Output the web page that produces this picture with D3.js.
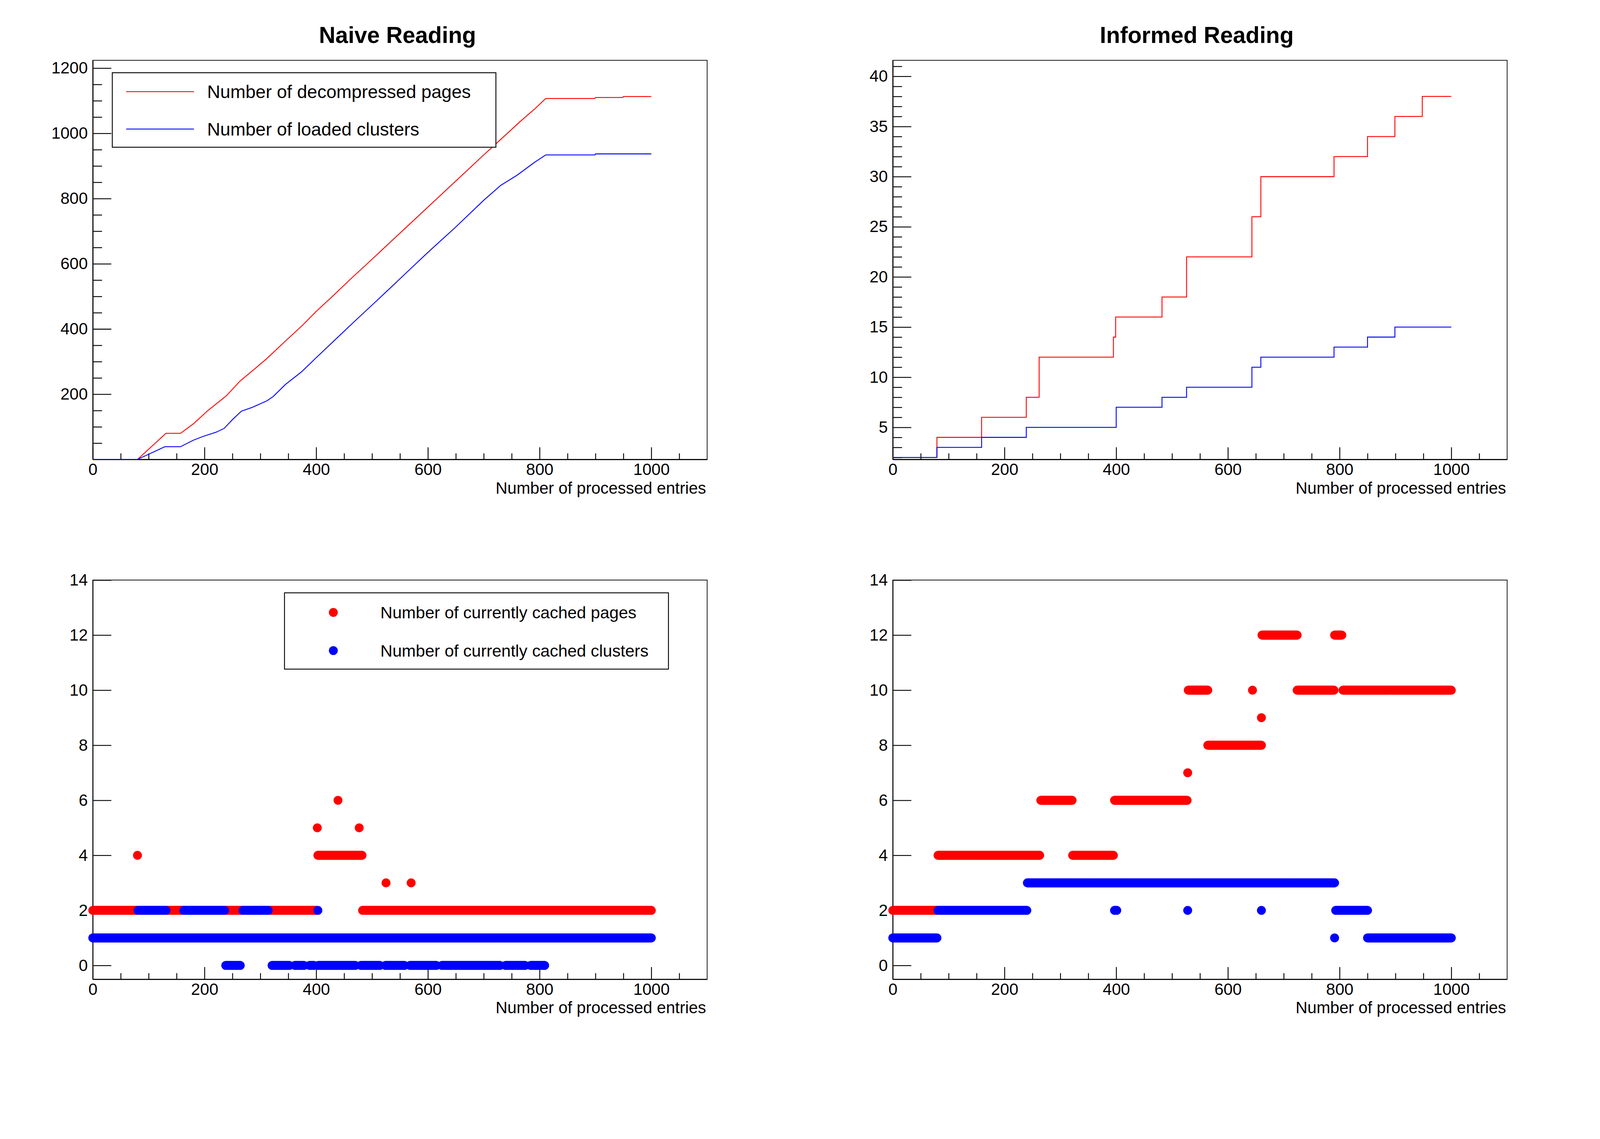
<!DOCTYPE html>
<html>
<head>
<meta charset="utf-8">
<script src="https://cdn.jsdelivr.net/npm/d3@7"></script>
<style>
  html, body { margin: 0; padding: 0; background: #fff; overflow: hidden; }
  #chart { width: 100vw; }
  svg { display: block; width: 100%; height: auto; }
</style>
</head>
<body>
<div id="chart"></div>
<script>
// CONSTANTS
const WIDTH = 4488;
const HEIGHT = 2916;
const FONT = "'Liberation Sans', Arial, Helvetica, sans-serif";
const RED = "#ff0000";
const BLUE = "#0000ff";

// DATA
const xTickValues = [0, 200, 400, 600, 800, 1000];
const topLeftYTicks = [200, 400, 600, 800, 1000, 1200];
const topRightYTicks = [5, 10, 15, 20, 25, 30, 35, 40];
const bottomYTicks = [0, 2, 4, 6, 8, 10, 12, 14];

const seriesNames = {
  decompressed: "Number of decompressed pages",
  loaded: "Number of loaded clusters",
  cachedPages: "Number of currently cached pages",
  cachedClusters: "Number of currently cached clusters"
};

// naive reading: cumulative counts, polyline vertices (entry, count)
const naivePagesX = [0, 80, 131, 157, 180, 206, 239, 264, 288, 312, 348, 374, 400, 429, 462, 490, 520, 550, 600, 650, 700, 720, 765, 790, 811, 899, 900, 949, 950, 1000];
const naivePagesY = [0, 0, 80, 80, 109, 150, 195, 241, 275, 310, 368, 409, 454, 500, 554, 598, 646, 694, 774, 854, 934, 965, 1036, 1073, 1107, 1107, 1110, 1110, 1113, 1113];
const naiveClustersX = [0, 80, 129, 157, 180, 198, 220, 235, 250, 266, 286, 312, 323, 345, 374, 400, 432, 469, 506, 542, 566, 600, 650, 700, 730, 760, 790, 811, 899, 900, 1000];
const naiveClustersY = [0, 0, 39, 39, 59, 71, 83, 95, 122, 148, 160, 180, 193, 230, 269, 312, 364, 424, 483, 541, 580, 635, 713, 795, 840, 872, 910, 934, 934, 937, 937];

// informed reading: cumulative counts, step changes (entry where the new value starts)
const informedPagesX = [0, 79, 159, 239, 262, 395, 399, 482, 526, 643, 659, 790, 850, 899, 948, 1000];
const informedPagesY = [2, 4, 6, 8, 12, 14, 16, 18, 22, 26, 30, 32, 34, 36, 38, 38];
const informedClustersX = [0, 79, 159, 239, 400, 482, 526, 643, 659, 790, 850, 899, 1000];
const informedClustersY = [2, 3, 4, 5, 7, 8, 9, 11, 12, 13, 14, 15, 15];

// currently cached: runs of entries [first, last, value], one point per entry
const naiveCachedPagesRuns = [
  [0, 400, 2], [483, 1000, 2], [80, 80, 4], [403, 482, 4], [402, 402, 5],
  [477, 477, 5], [439, 439, 6], [525, 525, 3], [570, 570, 3]
];
const naiveCachedClustersRuns = [
  [0, 1000, 1], [81, 131, 2], [163, 236, 2], [269, 314, 2], [403, 403, 2],
  [238, 264, 0], [321, 352, 0], [362, 378, 0], [388, 396, 0], [404, 470, 0],
  [480, 514, 0], [524, 558, 0], [568, 615, 0], [625, 729, 0], [739, 774, 0], [784, 809, 0]
];
const informedCachedPagesRuns = [
  [0, 79, 2], [81, 263, 4], [322, 395, 4], [265, 321, 6], [397, 527, 6],
  [528, 528, 7], [529, 564, 10], [644, 644, 10], [724, 790, 10], [806, 1000, 10],
  [564, 660, 8], [660, 660, 9], [661, 724, 12], [791, 804, 12]
];
const informedCachedClustersRuns = [
  [0, 79, 1], [791, 791, 1], [850, 1000, 1], [81, 240, 2], [397, 401, 2],
  [528, 528, 2], [660, 660, 2], [793, 850, 2], [241, 791, 3]
];

// LAYOUT (ROOT 2x2 pads, 0.1 margins)
const COLS = [[260.3, 1983.6], [2504.3, 4227.6]];
const ROWS = [[169.2, 1288.8], [1627.2, 2746.8]];
const PAD_CENTERS = [1115, 3357];
const X_DOMAIN = [0, 1100];

const expandRuns = runs => {
  const pts = [];
  runs.forEach(([a, b, v]) => {
    for (let e = a; e <= b; e++) pts.push([e, v]);
  });
  return pts;
};

const svg = d3.select("#chart")
  .append("svg")
  .attr("viewBox", `0 0 ${WIDTH} ${HEIGHT}`)
  .attr("preserveAspectRatio", "xMinYMin meet")
  .attr("font-family", FONT);

svg.append("rect").attr("width", WIDTH).attr("height", HEIGHT).attr("fill", "white");

const styleAxis = (sel, fontSize) => {
  sel.attr("font-size", fontSize).attr("font-family", FONT);
  sel.selectAll(".domain").attr("stroke", "black").attr("stroke-width", 2.5);
  sel.selectAll(".tick line").attr("stroke", "black").attr("stroke-width", 2.5);
  sel.selectAll(".tick text").attr("fill", "black");
};

const drawPanel = (panel) => {
  const [left, right] = COLS[panel.col];
  const [top, bottom] = ROWS[panel.row];
  const g = svg.append("g");

  const x = d3.scaleLinear().domain(X_DOMAIN).range([left, right]);
  const y = d3.scaleLinear().domain(panel.yDomain).range([bottom, top]);

  // frame
  g.append("rect")
    .attr("x", left).attr("y", top)
    .attr("width", right - left).attr("height", bottom - top)
    .attr("fill", "none").attr("stroke", "black").attr("stroke-width", 2);

  // x axis
  const xMinor = d3.range(50, 1100, 50).filter(v => v % 200 !== 0);
  g.append("g")
    .attr("transform", `translate(0,${bottom})`)
    .call(d3.axisBottom(x).tickValues(xMinor).tickSize(-17).tickSizeOuter(0).tickFormat(""))
    .call(styleAxis, 46);
  g.append("g")
    .attr("transform", `translate(0,${bottom})`)
    .call(d3.axisBottom(x).tickValues(xTickValues).tickSize(-34).tickSizeOuter(0).tickPadding(11).tickFormat(d3.format("d")))
    .call(styleAxis, 46);

  // y axis
  if (panel.yMinor.length) {
    g.append("g")
      .attr("transform", `translate(${left},0)`)
      .call(d3.axisLeft(y).tickValues(panel.yMinor).tickSize(-26).tickSizeOuter(0).tickFormat(""))
      .call(styleAxis, 46);
  }
  g.append("g")
    .attr("transform", `translate(${left},0)`)
    .call(d3.axisLeft(y).tickValues(panel.yTicks).tickSize(-52).tickSizeOuter(0).tickPadding(14).tickFormat(d3.format("d")))
    .call(styleAxis, 46);

  // axis title
  g.append("text")
    .attr("x", right - 3).attr("y", bottom + 96)
    .attr("text-anchor", "end")
    .attr("font-size", 46)
    .text("Number of processed entries");

  // title
  if (panel.title) {
    g.append("text")
      .attr("x", PAD_CENTERS[panel.col]).attr("y", 120)
      .attr("text-anchor", "middle")
      .attr("font-size", 64)
      .attr("font-weight", "bold")
      .text(panel.title);
  }

  // series
  panel.lines.forEach(s => {
    const line = d3.line()
      .x(d => x(d[0]))
      .y(d => y(d[1]));
    if (s.step) line.curve(d3.curveStepAfter);
    g.append("path")
      .datum(d3.zip(s.xs, s.ys))
      .attr("d", line)
      .attr("fill", "none")
      .attr("stroke", s.color)
      .attr("stroke-width", 2.5);
  });

  panel.dots.forEach(s => {
    g.append("g")
      .attr("fill", s.color)
      .selectAll("circle")
      .data(expandRuns(s.runs))
      .enter()
      .append("circle")
      .attr("cx", d => x(d[0]))
      .attr("cy", d => y(d[1]))
      .attr("r", 12.5);
  });

  // legend
  if (panel.legend) {
    const L = panel.legend;
    const lg = g.append("g");
    lg.append("rect")
      .attr("x", L.x0).attr("y", L.y0)
      .attr("width", L.x1 - L.x0).attr("height", L.y1 - L.y0)
      .attr("fill", "white").attr("stroke", "black").attr("stroke-width", 2.5);
    L.entries.forEach((e, i) => {
      const ry = L.rows[i];
      if (L.kind === "line") {
        lg.append("line")
          .attr("x1", L.sampleX[0]).attr("x2", L.sampleX[1])
          .attr("y1", ry).attr("y2", ry)
          .attr("stroke", e.color).attr("stroke-width", 2.5);
      } else {
        lg.append("circle")
          .attr("cx", L.sampleX[0]).attr("cy", ry).attr("r", 12.5)
          .attr("fill", e.color);
      }
      lg.append("text")
        .attr("x", L.textX).attr("y", ry)
        .attr("dy", "0.35em")
        .attr("font-size", L.fontSize)
        .text(e.label);
    });
  }
};

const panels = [
  {
    col: 0, row: 0, title: "Naive Reading",
    yDomain: [0, 1224], yTicks: topLeftYTicks,
    yMinor: d3.range(50, 1224, 50).filter(v => v % 200 !== 0),
    lines: [
      { xs: naivePagesX, ys: naivePagesY, color: RED },
      { xs: naiveClustersX, ys: naiveClustersY, color: BLUE }
    ],
    dots: [],
    legend: {
      kind: "line", x0: 315, y0: 204, x1: 1391, y1: 413,
      sampleX: [354, 544], textX: 581, rows: [257, 362], fontSize: 51,
      entries: [
        { label: seriesNames.decompressed, color: RED },
        { label: seriesNames.loaded, color: BLUE }
      ]
    }
  },
  {
    col: 1, row: 0, title: "Informed Reading",
    yDomain: [1.8, 41.6], yTicks: topRightYTicks,
    yMinor: d3.range(2, 42, 1).filter(v => v % 5 !== 0),
    lines: [
      { xs: informedPagesX, ys: informedPagesY, color: RED, step: true },
      { xs: informedClustersX, ys: informedClustersY, color: BLUE, step: true }
    ],
    dots: []
  },
  {
    col: 0, row: 1,
    yDomain: [-0.5, 14], yTicks: bottomYTicks, yMinor: [],
    lines: [],
    dots: [
      { runs: naiveCachedPagesRuns, color: RED },
      { runs: naiveCachedClustersRuns, color: BLUE }
    ],
    legend: {
      kind: "marker", x0: 798, y0: 1663, x1: 1875, y1: 1877,
      sampleX: [935], textX: 1067, rows: [1718, 1825], fontSize: 47,
      entries: [
        { label: seriesNames.cachedPages, color: RED },
        { label: seriesNames.cachedClusters, color: BLUE }
      ]
    }
  },
  {
    col: 1, row: 1,
    yDomain: [-0.5, 14], yTicks: bottomYTicks, yMinor: [],
    lines: [],
    dots: [
      { runs: informedCachedPagesRuns, color: RED },
      { runs: informedCachedClustersRuns, color: BLUE }
    ]
  }
];

panels.forEach(drawPanel);
</script>
</body>
</html>
